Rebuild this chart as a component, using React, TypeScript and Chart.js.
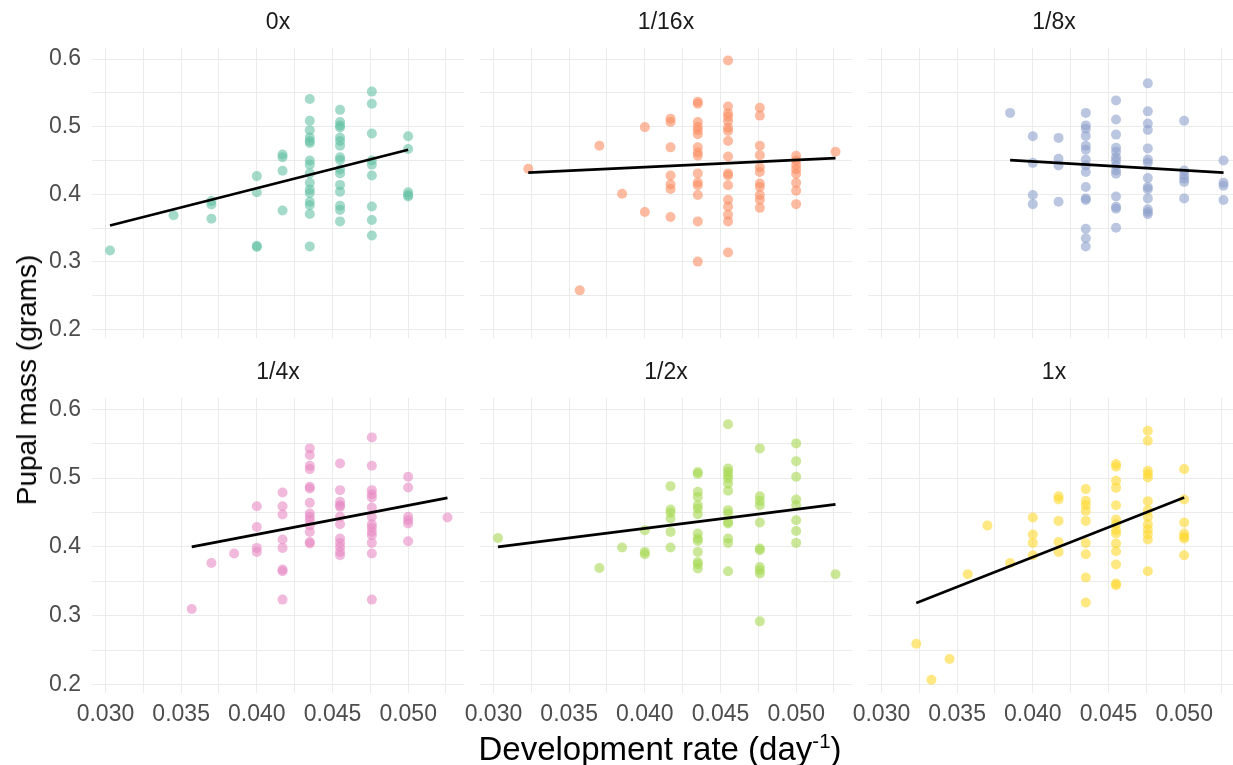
import React, { useEffect, useRef } from "react";
import { Chart, registerables } from "chart.js";
Chart.register(...registerables);

// ---------- data ----------
const panelNames = ["0x", "1/16x", "1/8x", "1/4x", "1/2x", "1x"];
const panelColors = ["#66C2A5", "#FC8D62", "#8DA0CB", "#E78AC3", "#A6D854", "#FFD92F"];

// development-rate columns and pupal masses per column
const rates0x = [0.0303, 0.0345, 0.037, 0.04, 0.0417, 0.0435, 0.0455, 0.0476, 0.05];
const masses0x = [
  [0.317],
  [0.369],
  [0.39, 0.385, 0.364],
  [0.427, 0.403, 0.324, 0.322],
  [0.459, 0.455, 0.435, 0.376],
  [0.541, 0.509, 0.495, 0.484, 0.479, 0.476, 0.45, 0.444, 0.431, 0.417, 0.407, 0.402, 0.389, 0.384, 0.371, 0.323],
  [0.525, 0.507, 0.502, 0.499, 0.484, 0.479, 0.472, 0.455, 0.451, 0.437, 0.431, 0.414, 0.404, 0.383, 0.377, 0.36],
  [0.552, 0.534, 0.49, 0.45, 0.444, 0.428, 0.382, 0.362, 0.339],
  [0.486, 0.467, 0.403, 0.399, 0.397],
];

const rates16 = [0.0323, 0.0357, 0.037, 0.0385, 0.04, 0.0417, 0.0435, 0.0455, 0.0476, 0.05, 0.0526];
const masses16 = [
  [0.438],
  [0.258],
  [0.472],
  [0.401],
  [0.4995, 0.374],
  [0.512, 0.507, 0.4695, 0.428, 0.415, 0.408, 0.3665],
  [0.537, 0.534, 0.507, 0.5, 0.495, 0.489, 0.4695, 0.462, 0.457, 0.431, 0.4175, 0.4135, 0.399, 0.36, 0.3005],
  [0.598, 0.53, 0.52, 0.515, 0.508, 0.4986, 0.4937, 0.479, 0.456, 0.431, 0.428, 0.4135, 0.392, 0.382, 0.37, 0.36, 0.314],
  [0.528, 0.5165, 0.472, 0.458, 0.44, 0.433, 0.416, 0.411, 0.399, 0.392, 0.38],
  [0.457, 0.45, 0.443, 0.437, 0.4306, 0.417, 0.4055, 0.3855],
  [0.463],
];

const rates8 = [0.0385, 0.04, 0.0417, 0.0435, 0.0455, 0.0476, 0.05, 0.0526];
const masses8 = [
  [0.5205],
  [0.486, 0.4466, 0.399, 0.3855],
  [0.4835, 0.4525, 0.4427, 0.389],
  [0.5205, 0.502, 0.497, 0.4865, 0.472, 0.466, 0.4514, 0.4427, 0.433, 0.411, 0.394, 0.3917, 0.349, 0.335, 0.3228],
  [0.539, 0.5107, 0.4884, 0.469, 0.463, 0.455, 0.45, 0.4427, 0.4354, 0.4306, 0.3967, 0.3815, 0.3786, 0.3505],
  [0.5642, 0.5228, 0.5049, 0.4951, 0.468, 0.4514, 0.4466, 0.4243, 0.411, 0.4077, 0.394, 0.378, 0.3738, 0.3708],
  [0.5088, 0.4354, 0.4291, 0.4233, 0.4185, 0.394],
  [0.45, 0.417, 0.4127, 0.3917],
];

const rates4 = [0.0357, 0.037, 0.0385, 0.04, 0.0417, 0.0435, 0.0455, 0.0476, 0.05, 0.0526];
const masses4 = [
  [0.3096],
  [0.3766],
  [0.3903],
  [0.4592, 0.429, 0.3985, 0.3927],
  [0.479, 0.4592, 0.447, 0.4107, 0.3985, 0.367, 0.3645, 0.3233],
  [0.5432, 0.5335, 0.5179, 0.5131, 0.4875, 0.485, 0.464, 0.4486, 0.4437, 0.4388, 0.4315, 0.4218, 0.4072, 0.4048],
  [0.5214, 0.4825, 0.4655, 0.4606, 0.4582, 0.4437, 0.433, 0.4121, 0.4058, 0.3999, 0.3927, 0.3878],
  [0.5592, 0.5179, 0.4825, 0.4767, 0.4718, 0.4573, 0.4437, 0.433, 0.4282, 0.4218, 0.417, 0.4058, 0.3903, 0.3233],
  [0.5019, 0.4864, 0.4437, 0.4388, 0.434, 0.4082],
  [0.4427],
];

const rates2 = [0.0303, 0.037, 0.0385, 0.04, 0.0417, 0.0435, 0.0455, 0.0476, 0.05, 0.0526];
const masses2 = [
  [0.413],
  [0.3693],
  [0.399],
  [0.4242, 0.3927, 0.3893],
  [0.4883, 0.4543, 0.4495, 0.4413, 0.4218, 0.399],
  [0.509, 0.506, 0.48, 0.4727, 0.4606, 0.4558, 0.4475, 0.4194, 0.4121, 0.4087, 0.3927, 0.3781, 0.3747, 0.3685],
  [0.5782, 0.5141, 0.5091, 0.5043, 0.4995, 0.4922, 0.4815, 0.4534, 0.4485, 0.4363, 0.434, 0.4121, 0.4058, 0.3645],
  [0.5432, 0.4737, 0.4669, 0.4606, 0.4354, 0.3976, 0.3951, 0.3708, 0.366, 0.3612, 0.2917],
  [0.5505, 0.5247, 0.5019, 0.4689, 0.4606, 0.4388, 0.4232, 0.4058],
  [0.3602],
];

const rates1 = [0.0323, 0.0333, 0.0345, 0.0357, 0.037, 0.0385, 0.04, 0.0417, 0.0435, 0.0455, 0.0476, 0.05];
const masses1 = [
  [0.2592],
  [0.2068],
  [0.2369],
  [0.3602],
  [0.4311],
  [0.3766],
  [0.4427, 0.418, 0.4058, 0.3878],
  [0.4737, 0.4689, 0.4378, 0.4072, 0.3927],
  [0.484, 0.4669, 0.4606, 0.4524, 0.4378, 0.4058, 0.3893, 0.3554, 0.319],
  [0.5204, 0.5164, 0.496, 0.4858, 0.4606, 0.4398, 0.433, 0.4242, 0.4194, 0.4048, 0.3937, 0.3743, 0.3466, 0.3442],
  [0.5688, 0.5543, 0.5106, 0.5058, 0.501, 0.4665, 0.4534, 0.4437, 0.433, 0.4253, 0.4184, 0.4107, 0.3645],
  [0.5131, 0.4689, 0.4354, 0.4194, 0.4145, 0.4121, 0.3878],
];

// linear-fit lines (endpoints)
const fitRates = [
  [0.0303, 0.05],
  [0.0323, 0.0526],
  [0.0385, 0.0526],
  [0.0357, 0.0526],
  [0.0303, 0.0526],
  [0.0323, 0.05],
];
const fitMasses = [
  [0.354, 0.466],
  [0.432, 0.4535],
  [0.4505, 0.432],
  [0.4, 0.4713],
  [0.4, 0.4617],
  [0.3184, 0.4719],
];

const panelRates = [rates0x, rates16, rates8, rates4, rates2, rates1];
const panelMasses = [masses0x, masses16, masses8, masses4, masses2, masses1];

// axes
const xGrid = [0.03, 0.0325, 0.035, 0.0375, 0.04, 0.0425, 0.045, 0.0475, 0.05, 0.0525];
const xTickLabels = ["0.030", "", "0.035", "", "0.040", "", "0.045", "", "0.050", ""];
const yGrid = [0.2, 0.25, 0.3, 0.35, 0.4, 0.45, 0.5, 0.55, 0.6];
const yTickLabels = ["0.2", "", "0.3", "", "0.4", "", "0.5", "", "0.6"];
const X_MIN = 0.02911;
const X_MAX = 0.05369;
const Y_MIN = 0.1875;
const Y_MAX = 0.6165;

const xTitle = "Development rate (day";
const yTitle = "Pupal mass (grams)";

// ---------- layout ----------
const FONT = "'Liberation Sans', Arial, sans-serif";
const COL_LEFT = [92, 480, 868];
const ROW_TOP = [48, 398];
const PW = 377;
const PH = 295;
const Y_AXIS_W = 92;
const EXTRA_LEFT = 40;
const X_AXIS_H = 45;
const STRIP_H = 40;
const TICK_SIZE = 23;

function withAlpha(hex: string, a: number) {
  const n = parseInt(hex.slice(1), 16);
  return `rgba(${(n >> 16) & 255},${(n >> 8) & 255},${n & 255},${a})`;
}

function Panel({ idx }: { idx: number }) {
  const ref = useRef<HTMLCanvasElement>(null);
  const r = Math.floor(idx / 3);
  const c = idx % 3;
  const leftW = c === 0 ? Y_AXIS_W : 0;
  const padL = c === 0 ? 0 : EXTRA_LEFT;
  const botH = r === 1 ? X_AXIS_H : 0;
  const w = padL + leftW + PW;
  const h = STRIP_H + PH + botH;
  const left = COL_LEFT[c] - leftW - padL;
  const top = ROW_TOP[r] - STRIP_H;

  useEffect(() => {
    const points: { x: number; y: number }[] = [];
    panelRates[idx].forEach((rate, i) => {
      panelMasses[idx][i].forEach((m) => points.push({ x: rate, y: m }));
    });
    const fit = fitRates[idx].map((x, i) => ({ x, y: fitMasses[idx][i] }));
    const zeroPad = (s: any) => {
      s.paddingLeft = 0;
      s.paddingRight = 0;
      s.paddingTop = 0;
      s.paddingBottom = 0;
    };
    const chart = new Chart(ref.current as HTMLCanvasElement, {
      type: "scatter",
      data: {
        datasets: [
          {
            data: fit,
            showLine: true,
            borderColor: "#000000",
            borderWidth: 2.7,
            pointRadius: 0,
            pointHoverRadius: 0,
            order: 1,
          } as any,
          {
            data: points,
            backgroundColor: withAlpha(panelColors[idx], 0.6),
            borderWidth: 0,
            pointRadius: 5,
            pointHoverRadius: 5,
            pointBorderWidth: 0,
            clip: false,
            order: 2,
          } as any,
        ],
      },
      options: {
        responsive: false,
        animation: false,
        devicePixelRatio: 1,
        events: [],
        layout: { padding: { left: padL, right: 0, top: 0, bottom: 0 } },
        plugins: {
          legend: { display: false },
          tooltip: { enabled: false },
          title: {
            display: true,
            fullSize: false,
            text: panelNames[idx],
            color: "#1A1A1A",
            font: { family: FONT, size: TICK_SIZE, weight: "normal", lineHeight: 1.2 },
            padding: { top: 1.2, bottom: 11.2 },
          },
        },
        scales: {
          x: {
            type: "linear",
            min: X_MIN,
            max: X_MAX,
            afterBuildTicks: (s: any) => {
              s.ticks = xGrid.map((v) => ({ value: v }));
            },
            afterFit: (s: any) => {
              s.height = botH;
              zeroPad(s);
            },
            grid: { color: "#EBEBEB", lineWidth: 1, drawTicks: false },
            border: { display: false },
            ticks: {
              display: r === 1,
              autoSkip: false,
              maxRotation: 0,
              padding: 8.2,
              color: "#4D4D4D",
              font: { family: FONT, size: TICK_SIZE, lineHeight: 1.2 },
              callback: (_v: any, i: number) => xTickLabels[i],
            },
          },
          y: {
            type: "linear",
            min: Y_MIN,
            max: Y_MAX,
            afterBuildTicks: (s: any) => {
              s.ticks = yGrid.map((v) => ({ value: v }));
            },
            afterFit: (s: any) => {
              s.width = leftW;
              zeroPad(s);
            },
            grid: { color: "#EBEBEB", lineWidth: 1, drawTicks: false },
            border: { display: false },
            ticks: {
              display: c === 0,
              autoSkip: false,
              padding: 11,
              color: "#4D4D4D",
              font: { family: FONT, size: TICK_SIZE },
              callback: (_v: any, i: number) => yTickLabels[i],
            },
          },
        },
      } as any,
    });
    return () => chart.destroy();
  }, [idx]);

  return (
    <canvas
      ref={ref}
      width={w}
      height={h}
      style={{ position: "absolute", left, top, width: w, height: h, display: "block" }}
    />
  );
}

export default function App() {
  return (
    <div
      style={{
        position: "absolute",
        left: 0,
        top: 0,
        width: 1233,
        height: 765,
        overflow: "hidden",
        background: "#FFFFFF",
        fontFamily: FONT,
      }}
    >
      {panelNames.map((_, i) => (
        <Panel key={i} idx={i} />
      ))}
      <div style={{ position: "absolute", left: 27, top: 380, width: 0, height: 0 }}>
        <div
          style={{
            position: "absolute",
            left: 0,
            top: 0,
            transform: "translate(-50%, -50%) rotate(-90deg)",
            whiteSpace: "nowrap",
            fontSize: 28,
            color: "#000000",
            lineHeight: 1,
          }}
        >
          {yTitle}
        </div>
      </div>
      <div style={{ position: "absolute", left: 660, top: 748, width: 0, height: 0 }}>
        <div
          style={{
            position: "absolute",
            left: 0,
            top: 0,
            transform: "translate(-50%, -50%)",
            whiteSpace: "nowrap",
            fontSize: 33,
            color: "#000000",
            lineHeight: 1,
          }}
        >
          {xTitle}
          <span style={{ fontSize: "0.62em", verticalAlign: "0.6em" }}>-1</span>)
        </div>
      </div>
    </div>
  );
}
